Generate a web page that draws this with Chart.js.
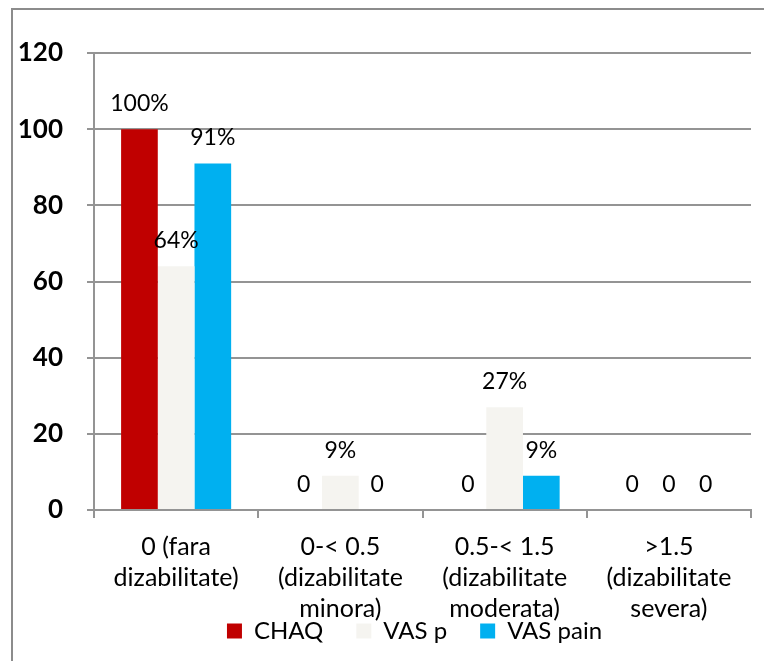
<!DOCTYPE html>
<html>
<head>
<meta charset="utf-8">
<script src="https://cdn.jsdelivr.net/npm/chart.js@4.4.1/dist/chart.umd.min.js"></script>
<style>
  html, body { margin: 0; padding: 0; background: #ffffff; }
  canvas { display: block; }
</style>
</head>
<body>
<canvas id="chart" width="764" height="661"></canvas>
<script>
// Disability groups on the x axis (CHAQ score bands)
const categories = [
  ["0 (fara", "dizabilitate)"],
  ["0-< 0.5", "(dizabilitate", "minora)"],
  ["0.5-< 1.5", "(dizabilitate", "moderata)"],
  [">1.5", "(dizabilitate", "severa)"]
];

// Percentage of patients in each group
const chaqValues = [100, 0, 0, 0];
const vasPValues = [64, 9, 27, 0];
const vasPainValues = [91, 0, 9, 0];

const yTicks = [0, 20, 40, 60, 80, 100, 120];

const FONT = "Lato, 'Open Sans', sans-serif";
const GRID = "#949494";

// Value labels above each bar: "0" for empty groups, otherwise a percentage
function valueText(v) {
  return v === 0 ? "0" : v + "%";
}

const valueLabels = {
  id: "valueLabels",
  afterDatasetsDraw(chart) {
    const ctx = chart.ctx;
    ctx.save();
    ctx.font = "23px " + FONT;
    ctx.fillStyle = "#000000";
    ctx.textAlign = "center";
    ctx.textBaseline = "alphabetic";
    chart.data.datasets.forEach((ds, i) => {
      const meta = chart.getDatasetMeta(i);
      meta.data.forEach((bar, j) => {
        ctx.fillText(valueText(ds.data[j]), bar.x, bar.y - 18);
      });
    });
    ctx.restore();
  }
};

// White page with a grey frame around the chart
const frame = {
  id: "frame",
  beforeDraw(chart) {
    const ctx = chart.ctx;
    ctx.save();
    ctx.fillStyle = "#ffffff";
    ctx.fillRect(0, 0, chart.width, chart.height);
    ctx.strokeStyle = "#8c8c8c";
    ctx.lineWidth = 2;
    ctx.strokeRect(12, 9, chart.width + 20, chart.height + 20);
    ctx.restore();
  },
  afterLayout(chart) {
    // three-line category labels run down beside the legend row
    const x = chart.scales.x;
    if (x) x.bottom = chart.height;
    // legend row sits a little right of centre
    if (chart.legend) {
      chart.legend.left += 33;
      chart.legend.right += 33;
    }
  }
};

new Chart(document.getElementById("chart"), {
  type: "bar",
  data: {
    labels: categories,
    datasets: [
      { label: "CHAQ", data: chaqValues, backgroundColor: "#C00000", borderWidth: 0 },
      { label: "VAS p", data: vasPValues, backgroundColor: "#F5F4F0", borderWidth: 0 },
      { label: "VAS pain", data: vasPainValues, backgroundColor: "#00B0F0", borderWidth: 0 }
    ]
  },
  options: {
    responsive: false,
    animation: false,
    devicePixelRatio: 1,
    layout: { padding: { left: 12, right: 13, top: 53, bottom: 8 } },
    datasets: {
      bar: { categoryPercentage: 0.67, barPercentage: 1.0 }
    },
    plugins: {
      tooltip: { enabled: false },
      title: { display: false },
      legend: {
        position: "bottom",
        labels: {
          boxWidth: 15,
          boxHeight: 15,
          padding: 33,
          color: "#000000",
          font: { family: FONT, size: 24 }
        }
      }
    },
    scales: {
      x: {
        offset: true,
        grid: {
          offset: true,
          drawOnChartArea: false,
          drawTicks: true,
          tickLength: 8,
          color: GRID,
          lineWidth: 2
        },
        border: { display: true, color: GRID, width: 2 },
        ticks: {
          color: "#000000",
          autoSkip: false,
          maxRotation: 0,
          minRotation: 0,
          padding: 13,
          font: { family: FONT, size: 25, lineHeight: 1.25 }
        },
        afterFit(scale) { scale.height = 76; }
      },
      y: {
        min: 0,
        max: 120,
        afterBuildTicks(scale) {
          scale.ticks = yTicks.map(v => ({ value: v }));
        },
        grid: {
          color: GRID,
          lineWidth: 2,
          drawTicks: true,
          tickLength: 7
        },
        border: { display: true, color: GRID, width: 2 },
        ticks: {
          color: "#000000",
          padding: 24,
          font: { family: FONT, size: 26, weight: "bold" }
        },
        afterFit(scale) { scale.width = 82; }
      }
    }
  },
  plugins: [frame, valueLabels]
});
</script>
</body>
</html>
